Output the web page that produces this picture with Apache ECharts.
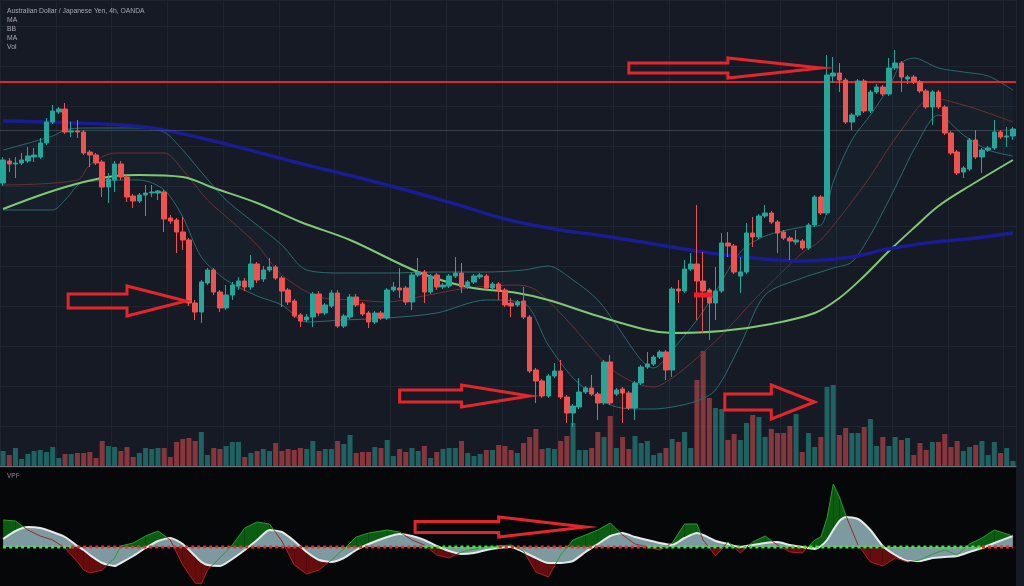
<!DOCTYPE html>
<html><head><meta charset="utf-8">
<script src="https://cdn.jsdelivr.net/npm/echarts/dist/echarts.min.js"></script>
<style>html,body{margin:0;padding:0;background:#161a25;overflow:hidden}#c{width:1024px;height:586px}</style>
</head><body><div id="c"></div><script>
// ---- candles: [open, close, low, high] (AUD/JPY, 4h)
const candleData = [
[78.99,79.22,78.96,79.25],[79.21,79.18,79.10,79.24],[79.18,79.19,79.04,79.25],[79.19,79.22,79.17,79.29],[79.21,79.26,79.19,79.35],
[79.25,79.27,79.20,79.34],[79.25,79.39,79.23,79.44],[79.39,79.60,79.37,79.64],[79.60,79.71,79.58,79.77],[79.70,79.73,79.68,79.75],
[79.73,79.50,79.48,79.79],[79.50,79.51,79.45,79.60],[79.51,79.50,79.44,79.62],[79.50,79.29,79.27,79.52],[79.30,79.27,79.15,79.32],
[79.27,79.19,79.17,79.29],[79.20,78.95,78.85,79.22],[78.95,79.03,78.79,79.09],[79.02,79.18,78.90,79.21],[79.18,79.05,79.02,79.21],
[79.05,78.85,78.80,79.07],[78.86,78.81,78.74,78.88],[78.81,78.87,78.79,78.89],[78.87,78.89,78.66,78.97],[78.89,78.90,78.85,78.97],
[78.89,78.91,78.82,78.92],[78.90,78.63,78.50,78.92],[78.64,78.61,78.58,78.67],[78.62,78.50,78.29,78.64],[78.50,78.42,78.32,78.65],
[78.42,77.79,77.76,78.44],[77.79,77.70,77.62,77.82],[77.70,78.00,77.59,78.02],[77.99,78.12,77.97,78.14],[78.12,77.90,77.87,78.14],
[77.90,77.74,77.70,77.92],[77.74,77.87,77.72,77.97],[77.87,77.97,77.82,78.00],[77.96,78.01,77.92,78.05],[78.01,77.95,77.91,78.04],
[77.95,78.18,77.92,78.27],[78.18,78.02,77.99,78.20],[78.03,78.12,78.00,78.16],[78.12,78.15,78.10,78.24],[78.15,78.04,78.02,78.17],
[78.04,77.91,77.75,78.06],[77.92,77.80,77.77,77.94],[77.81,77.66,77.64,77.83],[77.67,77.61,77.55,77.69],[77.62,77.65,77.60,77.68],
[77.65,77.88,77.55,77.90],[77.88,77.69,77.66,77.91],[77.69,77.77,77.67,77.79],[77.76,77.89,77.74,77.92],[77.89,77.56,77.54,77.92],
[77.56,77.66,77.54,77.68],[77.65,77.85,77.63,77.88],[77.85,77.77,77.75,77.88],[77.78,77.68,77.66,77.80],[77.69,77.60,77.54,77.71],
[77.60,77.69,77.58,77.71],[77.69,77.64,77.62,77.71],[77.64,77.92,77.62,77.94],[77.92,77.95,77.90,78.00],[77.94,77.92,77.84,78.14],
[77.94,77.80,77.77,77.96],[77.80,78.07,77.72,78.09],[78.07,78.10,78.05,78.24],[78.10,77.90,77.79,78.12],[77.90,78.06,77.88,78.08],
[78.07,77.95,77.92,78.09],[77.95,77.97,77.93,77.99],[77.96,78.06,77.94,78.08],[78.06,78.09,78.04,78.25],[78.09,77.95,77.89,78.19],
[77.95,78.00,77.93,78.02],[78.00,78.06,77.98,78.08],[78.05,78.07,78.03,78.09],[78.06,77.94,77.92,78.08],[77.94,77.98,77.92,78.00],
[77.98,77.92,77.82,78.00],[77.92,77.77,77.75,77.94],[77.79,77.76,77.65,77.84],[77.77,77.80,77.75,77.82],[77.81,77.65,77.63,77.95],
[77.65,77.11,77.09,77.67],[77.12,77.01,76.79,77.14],[77.01,76.86,76.84,77.03],[76.86,77.06,76.84,77.08],[77.06,77.11,77.04,77.19],
[77.11,76.85,76.83,77.22],[76.85,76.69,76.59,76.87],[76.69,76.76,76.55,76.78],[76.75,76.90,76.73,77.04],[76.90,76.94,76.88,76.96],
[76.94,76.88,76.86,77.07],[76.88,76.79,76.62,76.90],[76.79,77.20,76.77,77.22],[77.20,76.79,76.77,77.27],[76.88,76.92,76.86,76.94],
[76.93,76.89,76.59,76.95],[76.89,76.74,76.72,76.91],[76.74,76.99,76.62,77.01],[76.99,77.15,76.97,77.17],[77.15,77.18,77.13,77.30],
[77.18,77.25,77.16,77.27],[77.25,77.30,77.23,77.32],[77.30,77.12,77.02,77.32],[77.12,77.93,77.05,77.95],[77.93,77.91,77.79,78.02],
[77.91,78.13,77.89,78.22],[78.13,78.18,78.11,78.29],[78.18,78.01,77.62,78.77],[78.01,77.91,77.49,78.30],[77.92,77.79,77.42,77.94],
[77.79,77.91,77.62,78.15],[77.91,78.39,77.89,78.49],[78.39,78.36,78.25,78.50],[78.36,78.10,78.08,78.38],[78.06,78.10,77.89,78.25],
[78.10,78.49,78.08,78.59],[78.49,78.45,78.35,78.65],[78.45,78.66,78.43,78.68],[78.66,78.69,78.64,78.77],[78.69,78.60,78.58,78.71],
[78.60,78.49,78.29,78.62],[78.50,78.44,78.42,78.52],[78.44,78.41,78.22,78.46],[78.40,78.42,78.37,78.52],[78.41,78.34,78.32,78.43],
[78.34,78.57,78.32,78.59],[78.57,78.85,78.55,78.87],[78.85,78.69,78.67,78.87],[78.69,80.07,78.67,80.27],[80.06,80.09,79.99,80.25],
[80.09,80.02,79.90,80.19],[80.02,79.60,79.58,80.04],[79.60,79.67,79.52,79.69],[79.67,80.01,79.65,80.03],[80.01,79.71,79.69,80.03],
[79.71,79.90,79.69,79.92],[79.90,79.95,79.88,79.98],[79.95,79.88,79.86,79.97],[79.88,80.14,79.86,80.24],[80.14,80.19,80.12,80.32],
[80.19,80.05,79.90,80.21],[80.03,80.05,79.98,80.07],[80.05,80.00,79.98,80.07],[80.00,79.91,79.89,80.02],[79.91,79.75,79.73,79.93],
[79.75,79.90,79.57,79.92],[79.90,79.75,79.73,79.92],[79.75,79.49,79.47,79.77],[79.49,79.29,79.27,79.51],[79.30,79.09,79.07,79.32],
[79.10,79.14,79.04,79.16],[79.13,79.42,79.11,79.44],[79.42,79.25,79.23,79.52],[79.25,79.32,79.09,79.34],[79.32,79.34,79.30,79.36],
[79.34,79.50,79.32,79.62],[79.50,79.45,79.43,79.52],[79.45,79.46,79.35,79.55],[79.46,79.53,79.42,79.55]
];
// ---- volume (thousands)
const volumes = [
15,11,18,7,12,15,16,14,19,8, 12,12,13,13,14,8,25,20,19,15, 19,9,13,18,17,18,18,9,24,27,
28,25,34,11,18,17,20,24,24,9, 13,15,17,15,23,15,17,16,18,17, 25,15,17,17,25,22,31,13,14,14,
19,18,26,10,17,14,18,15,20,8, 14,17,18,18,25,13,10,12,16,16, 21,20,16,13,23,29,37,17,18,17,
25,30,43,16,16,18,34,29,50,18, 29,17,30,23,25,11,13,18,27,24, 34,18,86,115,68,58,57,26,32,26,
43,51,49,29,37,33,33,40,52,14, 33,19,29,79,81,31,38,33,33,39, 47,20,29,20,29,26,28,11,23,16,
24,24,32,19,25,15,19,21,25,11, 24,13,18,5
];
// ---- moving averages read at candle indices: [index, price]
const maLong = [[0,79.61],[16,79.58],[24,79.54],[32,79.44],[41,79.30],[49,79.17],[57,79.05],[65,78.92],[73,78.78],[81,78.63],[89,78.53],[97,78.46],[105,78.38],[113,78.30],[121,78.24],[129,78.21],[137,78.25],[142,78.32],[149,78.39],[157,78.44],[163,78.49]];
const maMid = [[0,78.73],[7,78.89],[13,79.00],[18,79.06],[22,79.07],[29,79.05],[34,78.94],[41,78.79],[48,78.60],[56,78.42],[67,78.10],[75,77.95],[83,77.89],[88,77.82],[96,77.66],[104,77.52],[108,77.49],[116,77.51],[124,77.58],[131,77.69],[135,77.84],[139,78.06],[143,78.31],[147,78.54],[151,78.76],[156,78.96],[163,79.22]];
// ---- Bollinger bands
const bbIdx   = [0,8,10,13,22,26,29,32,36,41,45,49,55,62,70,78,84,88,92,96,99,103,105,108,112,115,119,123,129,132,134,137,140,143,145,147,151,155,159,163];
const bbUpper = [79.32,79.46,79.52,79.54,79.54,79.50,79.32,79.10,78.82,78.57,78.37,78.12,78.09,78.09,78.10,78.10,78.12,78.16,78.02,77.82,77.57,77.22,77.14,77.32,77.62,77.90,78.30,78.46,78.55,78.57,79.00,79.42,79.67,79.95,80.19,80.24,80.14,80.10,80.06,79.92];
const bbLower = [78.72,78.72,78.82,79.00,79.02,78.92,78.65,78.25,78.02,77.86,77.77,77.60,77.62,77.64,77.69,77.82,77.79,77.37,77.04,76.84,76.75,76.73,76.73,76.75,76.81,76.92,77.37,77.87,78.04,78.10,78.14,78.20,78.47,78.82,79.07,79.32,79.67,79.47,79.32,79.26];
const basisIdx = [0,12,14,18,26,29,33,37,41,45,51,57,62,67,75,83,86,91,98,102,105,108,112,116,122,129,132,139,145,150,155,159,163];
const basis    = [78.97,79.02,79.17,79.29,79.29,79.12,78.82,78.60,78.37,78.07,77.85,77.82,77.80,77.85,77.94,77.97,77.92,77.62,77.14,76.99,76.95,77.04,77.24,77.47,77.87,78.29,78.42,78.97,79.52,79.84,79.77,79.69,79.60];
const resistance = 80.00, lastPrice = 79.52;
// ---- VPF oscillator
const vpfIdx = [0,2,4,6,8,10,12,13,14,16,18,19,21,23,25,27,29,31,32,33,35,37,39,41,43,45,47,49,51,53,55,57,59,62,64,66,68,70,72,74,76,78,80,82,84,86,88,90,92,94,96,98,100,102,104,106,108,110,112,113,115,117,119,121,123,125,127,129,131,132,133,134,135,136,138,140,142,144,146,148,150,152,154,156,158,160,163];
const vpfRaw = [2.7,2.6,1.7,1.1,0.7,-0.1,-1.5,-2.3,-2.6,-2.3, -1.1,0.1,0.4,1.1,1.6,0.7,-1.8,-3.6,-3.7,-2.3, -1.1,0.2,1.9,2.5,2.3,0.6,-1.8,-2.7,-2.3,-1.3,
 -0.2,1.0,1.4,1.7,1.5,0.7,0.2,-0.8,-1.1,-0.5, -0.2,0.0,0.1,0.2,-0.4,-2.5,-3.0,-0.8,0.7,1.2, 1.7,2.4,1.2,0.3,0.0,-0.3,0.4,2.3,2.3,0.7,
 -0.9,0.5,-0.6,0.5,1.1,0.2,-0.5,-0.6,0.7,1.0, 2.9,6.3,5.0,3.2,0.2,-1.5,-1.9,-1.1,-1.5,-1.3, -0.7,-0.3,-0.8,0.3,0.9,1.7,1.1];
const vpfSignal = [0.8,1.6,2.0,1.9,1.5,1.0,0.1,-0.3,-0.8,-1.6, -1.9,-1.6,-0.9,-0.1,0.6,0.9,0.3,-0.9,-1.5,-1.8, -1.9,-1.2,-0.3,0.7,1.7,1.5,0.6,-0.5,-1.3,-1.5,
 -1.1,-0.3,0.3,1.0,1.3,1.1,0.7,0.1,-0.4,-0.7, -0.6,-0.3,-0.1,0.0,-0.5,-1.1,-1.6,-1.6,-1.4,-0.5, 0.3,1.1,1.4,1.0,0.7,0.4,0.2,0.9,1.4,1.2,
 0.6,0.3,0.0,0.2,0.4,0.5,0.2,0.0,-0.2,0.1, 0.7,1.7,2.6,3.0,2.8,1.7,0.1,-0.8,-1.4,-1.4, -1.1,-1.0,-0.9,-0.5,-0.1,0.4,1.1];
const zeroSpans = [[0,11,'up'],[11,68,'down'],[68,80,'up'],[80,104,'down'],[104,158,'up'],[158,163,'down']];
// ---- drawn annotations (arrows) in data coordinates
const arrows = [
  {grid:0, tail:10.5, neck:20, tip:29.5, level:77.81, shaft:7, wing:15},
  {grid:0, tail:64, neck:74, tip:85, level:76.86, shaft:6, wing:11},
  {grid:0, tail:101, neck:117, tip:132, level:80.14, shaft:5, wing:10},
  {grid:0, tail:116.5, neck:124, tip:131, level:76.80, shaft:8, wing:17},
  {grid:1, tail:66.5, neck:80, tip:94, level:2.0, shaft:5.5, wing:10}
];
const marker = {from:112, to:114, level:77.87};
const legendLines = ['Australian Dollar / Japanese Yen, 4h, OANDA','MA','BB','MA','Vol'];

// categories: 4h bars
const categories = [];
{ let t = Date.UTC(2021,1,1,0); for (let i=0;i<candleData.length;i++){ const d=new Date(t+i*4*3600e3); categories.push(d.toISOString().slice(0,16).replace('T',' ')); } }

const BULL='#26a69a', BEAR='#ef5350';
const chart = echarts.init(document.getElementById('c'));
const volData = volumes.map((v,i)=>({value:v, itemStyle:{color: candleData[i][1]>=candleData[i][0] ? 'rgba(38,166,154,0.52)' : 'rgba(239,83,80,0.52)'}}));
const bandBase = bbIdx.map((x,i)=>[x,bbLower[i]]);
const bandWidth = bbIdx.map((x,i)=>[x,+(bbUpper[i]-bbLower[i]).toFixed(2)]);
const vpfData = vpfIdx.map((x,i)=>[x,vpfRaw[i],vpfSignal[i]]);

function segs(i, api){
  const a=api.coord([vpfIdx[i],vpfRaw[i]]), b=api.coord([vpfIdx[i+1],vpfRaw[i+1]]);
  const c=api.coord([vpfIdx[i],vpfSignal[i]]), d=api.coord([vpfIdx[i+1],vpfSignal[i+1]]);
  const d0=vpfRaw[i]-vpfSignal[i], d1=vpfRaw[i+1]-vpfSignal[i+1];
  if (d0*d1>=0) return [{r:[a,b],s:[c,d],up:(d0+d1)>=0}];
  const t=d0/(d0-d1); const m=[a[0]+(b[0]-a[0])*t, a[1]+(b[1]-a[1])*t];
  return [{r:[a,m],s:[c,m],up:d0>=0},{r:[m,b],s:[m,d],up:d1>=0}];
}
function fillItem(params, api){
  const i=params.dataIndex; if (i>=vpfIdx.length-1) return null;
  return {type:'group', children: segs(i,api).map(s=>({type:'polygon', shape:{points:[s.r[0],s.r[1],s.s[1],s.s[0]]}, style:{fill: s.up?'#0b5d12':'#650c0c'}}))};
}
function rawItem(params, api){
  const i=params.dataIndex; if (i>=vpfIdx.length-1) return null;
  return {type:'group', children: segs(i,api).map(s=>({type:'polyline', shape:{points:s.r}, style:{stroke: s.up?'#2e9a30':'#a02626', lineWidth:1, fill:null}}))};
}

const series = [
  {type:'bar', name:'Vol', xAxisIndex:0, yAxisIndex:1, data:volData, barWidth:5, z:1, silent:true},
  {type:'line', xAxisIndex:0, yAxisIndex:0, data:bandBase, stack:'bb', smooth:0.3, symbol:'none', lineStyle:{opacity:0}, z:2, silent:true},
  {type:'line', xAxisIndex:0, yAxisIndex:0, data:bandWidth, stack:'bb', smooth:0.3, symbol:'none', lineStyle:{opacity:0}, areaStyle:{color:'rgba(45,125,135,0.09)'}, z:2, silent:true},
  {type:'line', name:'BB upper', data:bbIdx.map((x,i)=>[x,bbUpper[i]]), smooth:0.3, symbol:'none', lineStyle:{color:'#2b6a70', width:1}, z:3},
  {type:'line', name:'BB lower', data:bandBase, smooth:0.3, symbol:'none', lineStyle:{color:'#2b6a70', width:1}, z:3},
  {type:'line', name:'BB basis', data:basisIdx.map((x,i)=>[x,basis[i]]), smooth:0.3, symbol:'none', lineStyle:{color:'#6e2f33', width:1}, z:3},
  {type:'line', name:'MA', data:maMid, smooth:0.35, symbol:'none', lineStyle:{color:'#7fc874', width:2}, z:3},
  {type:'line', name:'MA long', data:maLong, smooth:0.35, symbol:'none', lineStyle:{color:'#1a1c94', width:3.5}, z:3},
  {type:'candlestick', name:'AUDJPY', xAxisIndex:0, yAxisIndex:0, data:candleData, barWidth:5, z:5,
   itemStyle:{color:BULL, color0:BEAR, borderColor:BULL, borderColor0:BEAR, borderWidth:1},
   markLine:{silent:true, symbol:'none', label:{show:false}, animation:false,
     data:[{yAxis:resistance, lineStyle:{color:'#e3242b', width:2, type:'solid'}},
           {yAxis:lastPrice, lineStyle:{color:'rgba(120,140,150,0.35)', width:1, type:'solid'}}]}},
  {type:'custom', xAxisIndex:1, yAxisIndex:2, data:vpfData, renderItem:fillItem, encode:{x:0,y:[1,2]}, z:1, silent:true},
  {type:'line', xAxisIndex:1, yAxisIndex:2, data:vpfIdx.map((x,i)=>[x,vpfSignal[i]]), smooth:0.2, symbol:'none',
   lineStyle:{color:'#e6e9ea', width:2}, areaStyle:{color:'#7c9a9f', opacity:1, origin:0}, z:2},
  {type:'custom', xAxisIndex:1, yAxisIndex:2, data:vpfData, renderItem:rawItem, encode:{x:0,y:[1,2]}, z:3, silent:true}
];
zeroSpans.forEach(s=>series.push({type:'line', xAxisIndex:1, yAxisIndex:2, data:[[s[0],0],[s[1],0]], symbol:'none',
  lineStyle:{color: s[2]==='up'?'#3ee63e':'#e83030', width:3, type:[3,3]}, z:4, silent:true}));

const gridLine = '#1f2431';
chart.setOption({
  animation:false,
  backgroundColor:'#161a25',
  grid:[{left:0, right:8, top:0, height:466},
        {left:0, right:8, top:468, height:118, show:true, backgroundColor:'#060709', borderWidth:0}],
  xAxis:[
    {type:'category', gridIndex:0, data:categories, boundaryGap:true, axisLabel:{show:false}, axisTick:{show:false},
     axisLine:{show:true, lineStyle:{color:'#6b6f7a', width:1}}, splitLine:{show:true, interval:8, lineStyle:{color:gridLine}}},
    {type:'category', gridIndex:1, data:categories, boundaryGap:true, show:false}
  ],
  yAxis:[
    {type:'value', gridIndex:0, min:76.16, max:80.82, interval:0.4, position:'right', axisLabel:{show:false}, axisTick:{show:false}, axisLine:{show:false},
     splitLine:{show:true, lineStyle:{color:gridLine}}},
    {type:'value', gridIndex:0, min:0, max:Math.max(...volumes)*4.05, show:false, splitLine:{show:false}},
    {type:'value', gridIndex:1, min:-3.9, max:7.9, show:false, splitLine:{show:false}}
  ],
  series
});

// annotations: text + arrows
const g = [];
legendLines.forEach((t,i)=>g.push({type:'text', x:7, y:i===0?11.5:20.5+(i-1)*8.8, z:200,
  style:{text:t, fill:'#a7aab3', fontSize:6.8, fontFamily:'Liberation Sans', verticalAlign:'middle'}}));
g.push({type:'text', x:7, y:476, z:200, style:{text:'VPF', fill:'#8a8d95', fontSize:6.5, fontFamily:'Liberation Sans', verticalAlign:'middle'}});
const xPix = (grid, idx, level) => {
  const lo = Math.floor(idx), hi = Math.ceil(idx);
  const a = chart.convertToPixel({gridIndex:grid},[lo,level]), b = chart.convertToPixel({gridIndex:grid},[hi,level]);
  return [a[0] + (b[0]-a[0])*(idx-lo), a[1]];
};
arrows.forEach(a=>{
  const t=xPix(a.grid,a.tail,a.level), n=xPix(a.grid,a.neck,a.level), e=xPix(a.grid,a.tip,a.level); const cy=t[1];
  g.push({type:'polygon', z:150, shape:{points:[[t[0],cy-a.shaft],[n[0],cy-a.shaft],[n[0],cy-a.wing],[e[0],cy],[n[0],cy+a.wing],[n[0],cy+a.shaft],[t[0],cy+a.shaft]]},
    style:{fill:'transparent', stroke:'#e3262b', lineWidth:3, lineJoin:'miter'}});
});
{ const a=chart.convertToPixel({gridIndex:0},[marker.from,marker.level]), b=chart.convertToPixel({gridIndex:0},[marker.to,marker.level]);
  g.push({type:'rect', z:150, shape:{x:a[0]-3, y:a[1]-2.5, width:b[0]-a[0]+6, height:5}, style:{fill:'#f01e24'}}); }
chart.setOption({graphic:g});
</script></body></html>
